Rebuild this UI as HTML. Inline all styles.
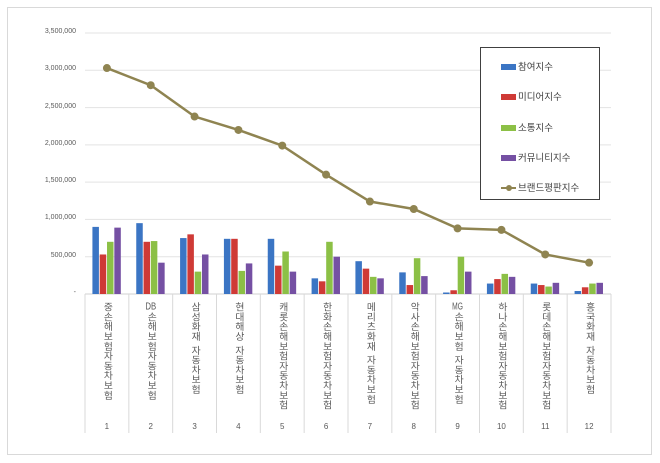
<!DOCTYPE html>
<html><head><meta charset="utf-8">
<style>
body{margin:0;background:#fff;width:660px;height:463px;position:relative;overflow:hidden;font-family:"Liberation Sans","Noto Sans CJK KR",sans-serif;}
.frame{position:absolute;left:7px;top:7px;width:645px;height:448px;border:1px solid #d9d9d9;box-sizing:border-box;}
.vl{position:absolute;top:302px;writing-mode:vertical-lr;text-orientation:upright;font-size:9.8px;color:#595959;line-height:11px;letter-spacing:0;white-space:nowrap;}
.vl span{text-combine-upright:all;}
.vl i{display:inline-block;height:4px;}
.num{position:absolute;top:422px;font-size:8px;color:#595959;width:20px;text-align:center;}
.yl{position:absolute;left:0;width:76px;text-align:right;font-size:7px;color:#595959;}
.leg{position:absolute;left:480px;top:47px;width:120px;height:153px;border:1px solid #404040;background:#fff;box-sizing:border-box;}
.li{position:absolute;left:20px;font-size:9.5px;color:#404040;}
.sw{display:inline-block;width:15px;height:6px;vertical-align:middle;margin-right:2px;}
</style></head><body>
<div class="frame"></div>
<svg id="s" width="660" height="463" style="position:absolute;left:0;top:0"></svg>
<div id="lab"></div>
<div class="leg">
<div class="li" style="top:11px"><span class="sw" style="background:#3b75c4"></span>참여지수</div>
<div class="li" style="top:41px"><span class="sw" style="background:#cf3a36"></span>미디어지수</div>
<div class="li" style="top:72px"><span class="sw" style="background:#8cc046"></span>소통지수</div>
<div class="li" style="top:102px"><span class="sw" style="background:#7550a3"></span>커뮤니티지수</div>
<div class="li" style="top:132px"><span style="display:inline-block;width:15px;height:2px;background:#8f8451;vertical-align:middle;margin-right:2px;position:relative"><span style="position:absolute;left:5px;top:-2px;width:6px;height:6px;border-radius:50%;background:#8f8451"></span></span>브랜드평판지수</div>
</div>
<script>
var x0=85,x1=611,y0=294,ppu=261/3500000,cw=(x1-x0)/12;
var bars=[[900,530,700,890],[950,700,710,420],[750,800,300,530],[740,740,310,410],[740,380,570,300],[210,170,700,500],[440,340,230,210],[290,120,480,240],[20,50,500,300],[140,200,270,230],[140,120,100,150],[40,90,140,150]];
var line=[3030,2800,2380,2200,1990,1600,1240,1140,880,860,530,420];
var cols=["#3b75c4","#cf3a36","#8cc046","#7550a3"];
var names=["중손해보험자동차보험","<span>DB</span>손해보험자동차보험","삼성화재<i></i>자동차보험","현대해상<i></i>자동차보험","캐롯손해보험자동차보험","한화손해보험자동차보험","메리츠화재<i></i>자동차보험","악사손해보험자동차보험","<span>MG</span>손해보험<i></i>자동차보험","하나손해보험자동차보험","롯데손해보험자동차보험","흥국화재<i></i>자동차보험"];
var s='';
var yl='';
for(var i=0;i<=7;i++){var y=y0-i*500000*ppu;
 if(i>0)s+='<line x1="'+x0+'" x2="'+x1+'" y1="'+y+'" y2="'+y+'" stroke="#e3e3e3" stroke-width="1"/>';
 yl+='<div class="yl" style="top:'+(y-5)+'px">'+(i==0?'-':(i*500000).toLocaleString('en-US'))+'</div>';}
s+='<line x1="'+x0+'" x2="'+x1+'" y1="'+y0+'" y2="'+y0+'" stroke="#d0d0d0"/>';
for(var c=0;c<=12;c++){var x=x0+c*cw;s+='<line x1="'+x+'" x2="'+x+'" y1="'+y0+'" y2="433" stroke="#d9d9d9"/>';}
var lab='';
for(var c=0;c<12;c++){var cx=x0+cw*(c+0.5);
 for(var b=0;b<4;b++){var h=bars[c][b]*1000*ppu;s+='<rect x="'+(cx-14.5+b*7.3)+'" y="'+(y0-h)+'" width="6.5" height="'+h+'" fill="'+cols[b]+'"/>';}
 lab+='<div class="vl" style="left:'+(cx-5.5)+'px">'+names[c]+'</div><div class="num" style="left:'+(cx-10)+'px">'+(c+1)+'</div>';}
var pts=line.map(function(v,c){return (x0+cw*(c+0.5))+','+(y0-v*1000*ppu)}).join(' ');
s+='<polyline points="'+pts+'" fill="none" stroke="#8f8451" stroke-width="2.5"/>';
line.forEach(function(v,c){s+='<circle cx="'+(x0+cw*(c+0.5))+'" cy="'+(y0-v*1000*ppu)+'" r="4" fill="#8f8451"/>';});
document.getElementById('s').innerHTML=s;
document.getElementById('lab').innerHTML=lab+yl;
</script>
</body></html>
